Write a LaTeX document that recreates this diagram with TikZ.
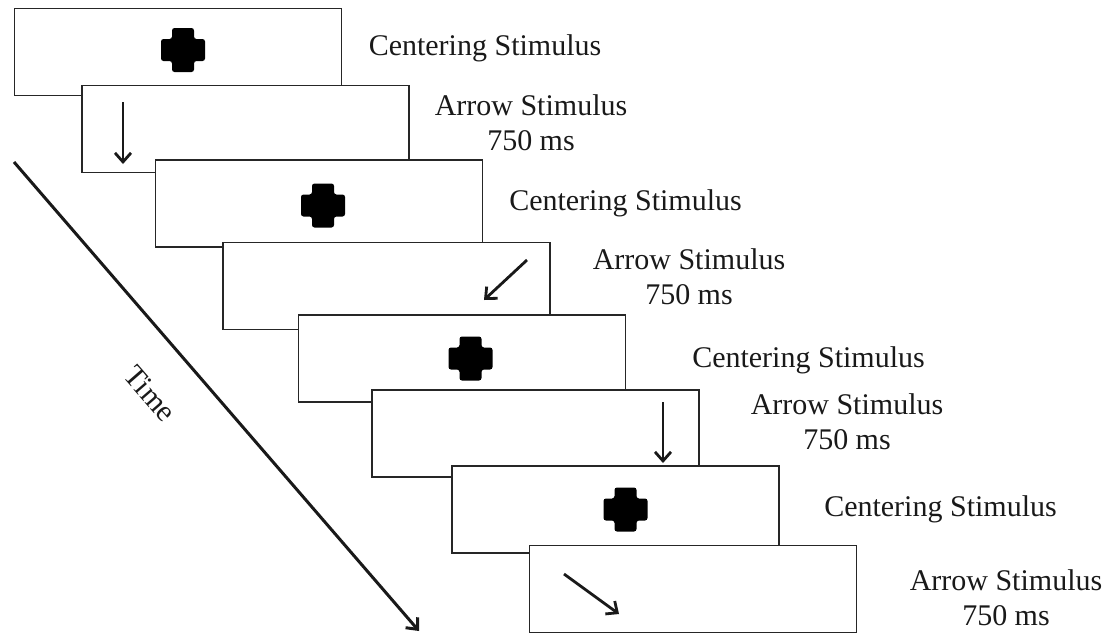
\documentclass[tikz,border=0pt]{standalone}
\usepackage{fontspec}
\setmainfont{Liberation Serif}
\usepackage{tikz}
\usetikzlibrary{arrows.meta}
\tikzset{>={Straight Barb[length=9pt,width=16pt]}}
\tikzset{
  stim box/.style={
    draw=black!85, line width=1.8pt, fill=white,
    minimum width=327pt, minimum height=87pt, inner sep=0pt
  }}
\tikzset{
  cue arrow/.style={->, line width=2.8pt, black!90}}
\tikzset{
  label text/.style={
    anchor=north, inner sep=0pt, align=center, text=black!90,
    font=\fontsize{30}{34.5}\selectfont
  }}
\tikzset{
  plus mark/.pic={
    \fill[black, rounded corners=2.5pt]
    (-11,-22) -- (11,-22) -- (11,-11) -- (22,-11) -- (22,11) -- (11,11)
    -- (11,22) -- (-11,22) -- (-11,11) -- (-22,11) -- (-22,-11) -- (-11,-11) -- cycle;
  }}

\begin{document}
\begin{tikzpicture}[x=1pt,y=-1pt]
    \useasboundingbox (0,0) rectangle (1114,633);
    \foreach \cx/\cy [count=\i] in {178/52, 245.5/129, 319/203.5, 386.5/286,
        462/358.5, 535.5/433.5, 615.5/509.5, 693/589}
        \node[stim box] (box\i) at (\cx,\cy) {};

    \pic at (183,50) {plus mark};
    \pic at (323,205.5) {plus mark};
    \pic at (470.5,358.5) {plus mark};
    \pic at (625.5,509.5) {plus mark};

    \coordinate (cueA) at (123,102);  \coordinate (tipA) at (123,164);
    \coordinate (cueB) at (527,260);  \coordinate (tipB) at (484,300);
    \coordinate (cueC) at (663,402);  \coordinate (tipC) at (663,463);
    \coordinate (cueD) at (564,574);  \coordinate (tipD) at (619,614);
    \draw[cue arrow] (cueA) -- (tipA);
    \draw[cue arrow] (cueB) -- (tipB);
    \draw[cue arrow] (cueC) -- (tipC);
    \draw[cue arrow] (cueD) -- (tipD);

    \node[label text] (center1) at (485,34.5) {Centering Stimulus};
    \node[label text] (arrow1) at (531,94.5) {Arrow Stimulus\\750 ms};
    \node[label text] (center2) at (625.5,189.5) {Centering Stimulus};
    \node[label text] (arrow2) at (689,248.5) {Arrow Stimulus\\750 ms};
    \node[label text] (center3) at (808.5,346.5) {Centering Stimulus};
    \node[label text] (arrow3) at (847,393.5) {Arrow Stimulus\\750 ms};
    \node[label text] (center4) at (940.5,495.5) {Centering Stimulus};
    \node[label text] (arrow4) at (1006,569.5) {Arrow Stimulus\\750 ms};

    \coordinate (start) at (14,162);
    \coordinate (stop) at (419,631);
    \draw[cue arrow, line width=3pt] (start) -- (stop);
    \node[label text, anchor=center, rotate=-49] (time) at (150,394) {Time};
\end{tikzpicture}
\end{document}
